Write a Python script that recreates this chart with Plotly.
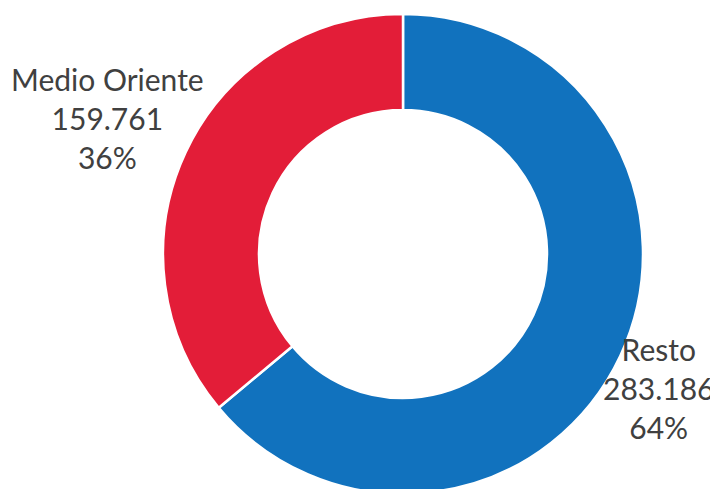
import plotly.graph_objects as go

labels = ["Resto", "Medio Oriente"]
values = [283186, 159761]
colors = ["#1172BE", "#E31D38"]

total = sum(values)

fig = go.Figure(go.Pie(
    labels=labels,
    values=values,
    hole=0.6,
    sort=False,
    direction="clockwise",
    rotation=0,
    marker=dict(colors=colors, line=dict(color="white", width=2.5)),
    textinfo="none",
    hoverinfo="label+value+percent",
    domain=dict(x=[0.2159, 0.8844], y=[0.0061, 0.9877]),
    showlegend=False,
))

# label block positions (paper coords)
label_pos = {"Resto": (0.9055, 0.223), "Medio Oriente": (0.139, 0.775)}
for lab, val in zip(labels, values):
    pct = round(100 * val / total)
    txt = f"{lab}<br>{val:,}".replace(",", ".") + f"<br>{pct}%"
    x, y = label_pos[lab]
    fig.add_annotation(
        x=x, y=y, xref="paper", yref="paper",
        text=txt, showarrow=False, align="center",
        xanchor="center", yanchor="middle",
        font=dict(family="Lato", size=30, color="#404040"),
    )

fig.update_layout(
    width=718, height=489,
    margin=dict(l=0, r=0, t=0, b=0),
    paper_bgcolor="white",
)
fig.write_html("out.html")
